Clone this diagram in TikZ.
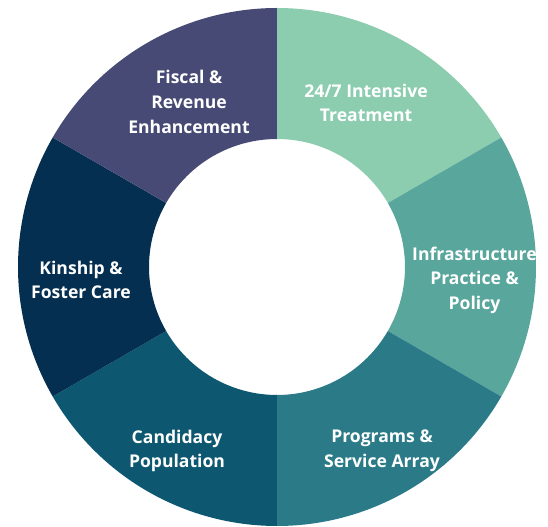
\documentclass[tikz,border=0pt]{standalone}
\usepackage{fontspec}
\setmainfont{Open Sans}
\definecolor{cTreat}{HTML}{8CCDB0}
\definecolor{cInfra}{HTML}{58A69C}
\definecolor{cProg}{HTML}{2A7B87}
\definecolor{cCand}{HTML}{0D5870}
\definecolor{cKin}{HTML}{042F50}
\definecolor{cFisc}{HTML}{474A75}
\tikzset{
  seglabel/.style={text=white,align=center,inner sep=0pt,font=\bfseries\fontsize{10}{14}\selectfont}
}
\begin{document}
\begin{tikzpicture}[line cap=round,line join=round,x=0.02cm,y=0.02cm]
	\useasboundingbox (-277,-260) rectangle (271,267);
	\fill [cTreat] (90:128) -- (90:259) arc (90:30:259) -- (30:128) arc (30:90:128) -- cycle;
	\fill [cInfra] (30:128) -- (30:259) arc (30:-30:259) -- (-30:128) arc (-30:30:128) -- cycle;
	\fill [cProg] (-30:128) -- (-30:259) arc (-30:-90:259) -- (-90:128) arc (-90:-30:128) -- cycle;
	\fill [cCand] (-90:128) -- (-90:259) arc (-90:-150:259) -- (-150:128) arc (-150:-90:128) -- cycle;
	\fill [cKin] (-150:128) -- (-150:259) arc (-150:-210:259) -- (-210:128) arc (-210:-150:128) -- cycle;
	\fill [cFisc] (150:128) -- (150:259) arc (150:90:259) -- (90:128) arc (90:150:128) -- cycle;
	\node [seglabel] (treat) at (89,164) {24/7 Intensive\\Treatment};
	\node [seglabel] (infra) at (197.5,-13) {Infrastructure\\Practice \&\\Policy};
	\node [seglabel] (prog) at (105,-184) {Programs \&\\Service Array};
	\node [seglabel] (cand) at (-100,-184) {Candidacy\\Population};
	\node [seglabel] (kin) at (-196,-13) {Kinship \&\\Foster Care};
	\node [seglabel] (fisc) at (-88,165) {Fiscal \&\\Revenue\\Enhancement};
\end{tikzpicture}
\end{document}
